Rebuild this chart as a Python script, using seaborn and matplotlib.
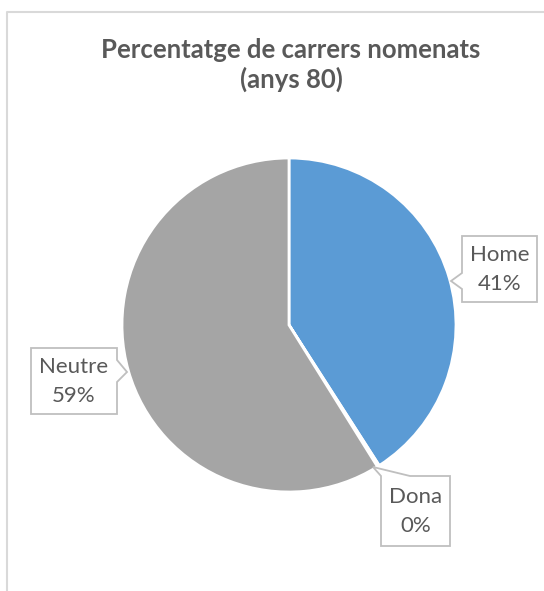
import matplotlib
matplotlib.use("Agg")
import matplotlib.pyplot as plt
import seaborn as sns
import numpy as np
from matplotlib.patches import Polygon

categories = ["Home", "Dona", "Neutre"]
values = [41.0, 0.2, 59.0]
pct_labels = ["41%", "0%", "59%"]
title_lines = ["Percentatge de carrers nomenats", "(anys 80)"]

sns.set_theme(style="white")
plt.rcParams['font.family'] = ['Lato', 'DejaVu Sans']

colors = ["#5B9BD5", "#ED7D31", "#A5A5A5"]
W, H = 544, 591
fig = plt.figure(figsize=(W / 100, H / 100), dpi=100)
ax = fig.add_axes([0, 0, 1, 1])

def P(x, y):
    return (x, H - y)

ax.pie(values, colors=colors, startangle=90, counterclock=False,
       center=P(289, 325), radius=167,
       wedgeprops=dict(edgecolor="white", linewidth=2), frame=True)
ax.set_xlim(0, W)
ax.set_ylim(0, H)
ax.axis("off")

# chart frame
ax.plot([7, 7, W + 5], [-5, H - 12, H - 12], color="#D9D9D9", lw=1.5, solid_capstyle="butt")

ax.text(291, H - 50, title_lines[0], ha="center", va="center",
        fontsize=18.5, fontweight="bold", color="#595959")
ax.text(291, H - 79, title_lines[1], ha="center", va="center",
        fontsize=18.5, fontweight="bold", color="#595959")

boxes = {
    "Home": [(462, 236), (537, 236), (537, 302), (462, 302), (462, 289), (451, 281), (462, 273)],
    "Dona": [(381, 476), (373, 467), (410, 476), (450, 476), (450, 546), (381, 546)],
    "Neutre": [(31, 348), (117, 348), (117, 360), (127, 372), (117, 382), (117, 414), (31, 414)],
}
centers = {"Home": (499.5, 269), "Dona": (415.5, 511), "Neutre": (74, 381)}
for cat, pl in zip(categories, pct_labels):
    poly = Polygon([P(x, y) for x, y in boxes[cat]], closed=True, facecolor="white",
                   edgecolor="#BFBFBF", linewidth=1.3, zorder=5)
    ax.add_patch(poly)
    cx, cy = centers[cat]
    ax.text(cx, H - cy + 14, cat, ha="center", va="center", fontsize=16, color="#595959", zorder=6)
    ax.text(cx, H - cy - 15, pl, ha="center", va="center", fontsize=16, color="#595959", zorder=6)

fig.savefig("out.png", dpi=100, facecolor="white")
